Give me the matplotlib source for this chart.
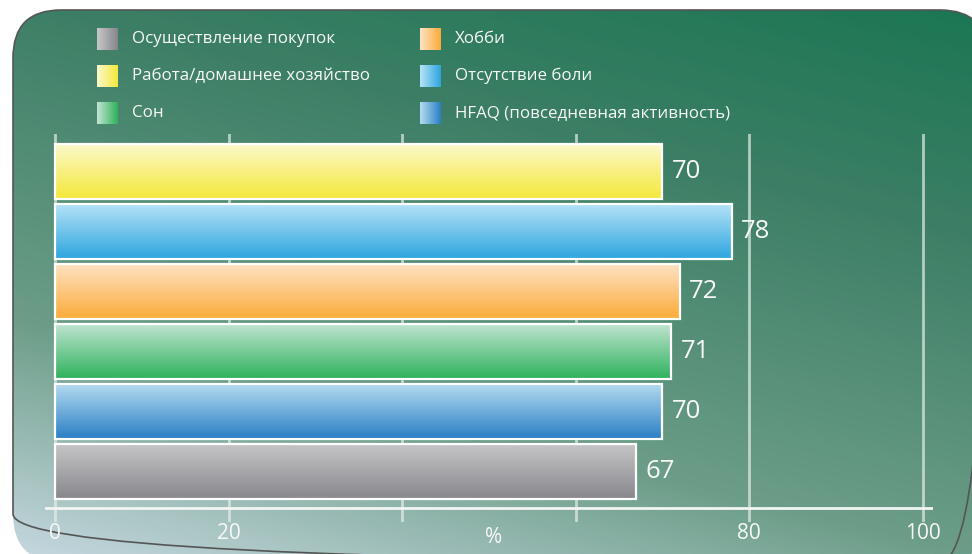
import numpy as np
import matplotlib.pyplot as plt
from matplotlib.colors import LinearSegmentedColormap
from matplotlib.patches import FancyBboxPatch

plt.rcParams['font.family'] = ['Open Sans', 'DejaVu Sans']

# data (bars listed top to bottom)
bar_names = ["Работа/домашнее хозяйство", "Отсутствие боли", "Хобби", "Сон",
             "HFAQ (повседневная активность)", "Осуществление покупок"]
bar_values = [70, 78, 72, 71, 70, 67]
legend_col1 = ["Осуществление покупок", "Работа/домашнее хозяйство", "Сон"]
legend_col2 = ["Хобби", "Отсутствие боли", "HFAQ (повседневная активность)"]
x_ticks = [0, 20, 40, 60, 80, 100]
x_labels = ["0", "20", "", "", "80", "100"]

# light -> saturated colour pairs
colors = {
    "Работа/домашнее хозяйство": ("#fcf9cc", "#f4e83a"),
    "Отсутствие боли": ("#b6e3f8", "#2ea5df"),
    "Хобби": ("#fee3c4", "#fbab3a"),
    "Сон": ("#c2e4d2", "#2eb25c"),
    "HFAQ (повседневная активность)": ("#b5dcf0", "#2a7fc5"),
    "Осуществление покупок": ("#c6c6c8", "#88878c"),
}

W, H = 972, 554
fig = plt.figure(figsize=(W / 100, H / 100), dpi=100)
fig.patch.set_facecolor("white")

# background panel with diagonal gradient
bg = fig.add_axes([0, 0, 1, 1])
bg.set_xlim(0, W)
bg.set_ylim(H, 0)
bg.axis("off")
yy, xx = np.mgrid[0:H, 0:W]
t = 0.3 * (1 - xx / W) + 0.7 * (yy / H)
bg_cmap = LinearSegmentedColormap.from_list(
    "bg", [(0, "#1a7653"), (0.3, "#3d7f66"), (0.7, "#6c9d88"), (1, "#c6d8e0")])
panel = FancyBboxPatch((13, 10), 975, 552, boxstyle="round,pad=0,rounding_size=48",
                       facecolor="none", edgecolor="#555555", lw=1.2, zorder=3)
bg.add_patch(panel)
img = bg.imshow(t, cmap=bg_cmap, vmin=0, vmax=1, extent=(0, W, H, 0), aspect="auto", zorder=1)
img.set_clip_path(panel)

txt_color = "#f8f8f8"

# legend
def legend_item(x, y, name):
    c0, c1 = colors[name]
    cm = LinearSegmentedColormap.from_list("l", [c0, c1])
    bg.imshow(np.linspace(0, 1, 50).reshape(1, -1), cmap=cm, extent=(x, x + 21, y + 11, y - 11),
              aspect="auto", zorder=4)
    bg.text(x + 35, y, name, color=txt_color, fontsize=12.2, va="center", ha="left", zorder=5)

for k, name in enumerate(legend_col1):
    legend_item(97, 39 + 37 * k, name)
for k, name in enumerate(legend_col2):
    legend_item(420, 39 + 37 * k, name)

# main axes
ax = fig.add_axes([44.6 / W, (H - 522) / H, (933 - 44.6) / W, 388 / H])
ax.set_facecolor("none")
for s in ax.spines.values():
    s.set_visible(False)

y_pos = np.arange(len(bar_values))
bar_h = 0.92
bars = ax.barh(y_pos, bar_values, height=bar_h, facecolor="none", edgecolor="white", lw=1.6, zorder=4)
grad = np.linspace(0, 1, 100).reshape(-1, 1)
for rect, name, val, y in zip(bars, bar_names, bar_values, y_pos):
    c0, c1 = colors[name]
    cm = LinearSegmentedColormap.from_list("b", [c0, c1])
    im = ax.imshow(grad, cmap=cm, extent=(0, val, y + bar_h / 2, y - bar_h / 2),
                   aspect="auto", zorder=3)
    im.set_clip_path(rect)
    ax.text(val + 1.1, y, str(val), color=txt_color, fontsize=18.5, va="center", ha="left", zorder=5)

ax.set_xlim(-1.2, 101.2)
ax.set_ylim(5.85, -0.625)
ax.set_yticks([])
ax.set_xticks(x_ticks)
ax.set_xticklabels(x_labels, color=txt_color, fontsize=15)
ax.tick_params(axis="x", length=0, pad=1)
ax.grid(axis="x", color="#e6eeea", alpha=0.7, lw=2, zorder=1)
ax.set_axisbelow(True)
ax.axhline(5.617, color="#f2f5f3", lw=2, zorder=2)
ax.text(50.5, -0.04, "%", transform=ax.get_xaxis_transform(), color=txt_color,
        fontsize=15, ha="center", va="center")

fig.savefig("out.png", dpi=100)
